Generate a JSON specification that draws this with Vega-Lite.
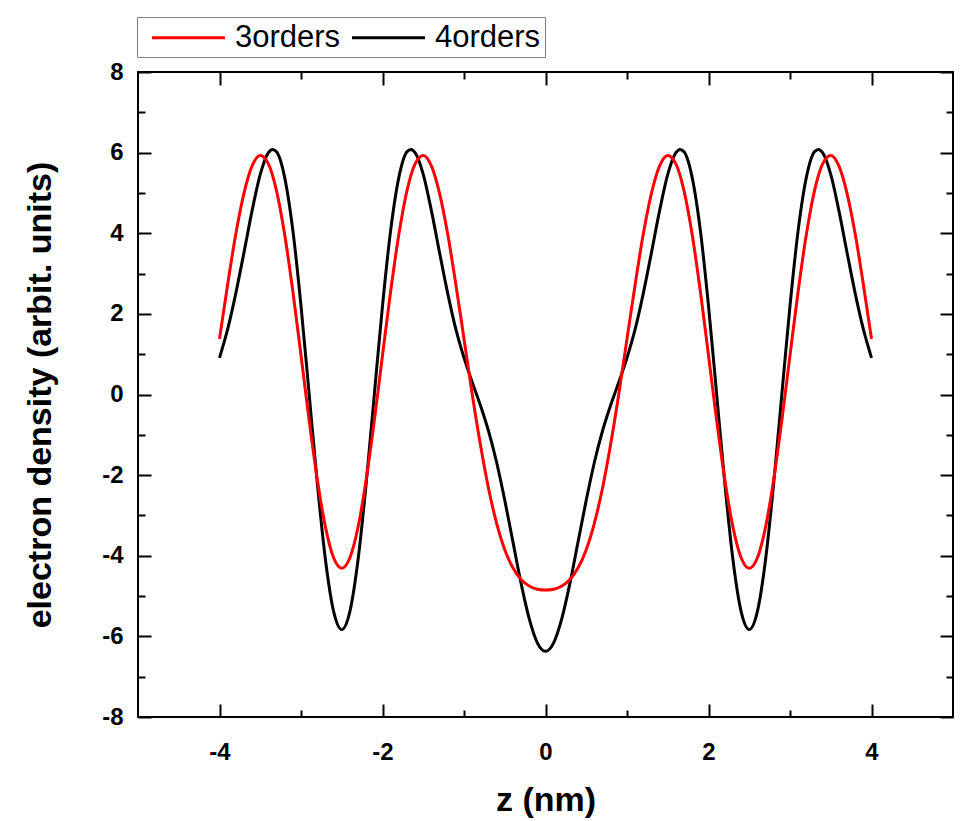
{
  "$schema": "https://vega.github.io/schema/vega-lite/v6.json",
  "autosize": "none",
  "width": 815,
  "height": 645,
  "padding": {"top": 72, "left": 138, "right": 24, "bottom": 104},
  "background": "white",
  "config": {
    "view": {"stroke": "black", "strokeWidth": 2},
    "axis": {
      "grid": false,
      "domain": false,
      "tickColor": "black",
      "tickWidth": 2,
      "labelFont": "Liberation Sans",
      "labelFontSize": 24,
      "labelFontWeight": "bold",
      "labelColor": "black",
      "labelOverlap": false,
      "titleFont": "Liberation Sans",
      "titleFontSize": 34,
      "titleFontWeight": "bold",
      "titleColor": "black"
    },
    "legend": {
      "orient": "none",
      "legendX": -1,
      "legendY": -55,
      "direction": "horizontal",
      "title": null,
      "symbolType": "M-2.5,0H2.5",
      "symbolSize": 853,
      "symbolStrokeWidth": 3,
      "labelFont": "Liberation Sans",
      "labelFontSize": 31,
      "labelColor": "black",
      "strokeColor": "#808080",
      "fillColor": "white",
      "padding": 4,
      "symbolOffset": 31,
      "labelOffset": 30,
      "columnPadding": 0
    }
  },
  "data": {
    "values": [
      {"z": -4, "v": 1.38, "s": "3orders"}, {"z": -3.9, "v": 2.73, "s": "3orders"}, {"z": -3.8, "v": 3.98, "s": "3orders"}, {"z": -3.7, "v": 4.99, "s": "3orders"}, {"z": -3.6, "v": 5.67, "s": "3orders"},
      {"z": -3.5, "v": 5.93, "s": "3orders"}, {"z": -3.4, "v": 5.72, "s": "3orders"}, {"z": -3.3, "v": 5.05, "s": "3orders"}, {"z": -3.2, "v": 3.96, "s": "3orders"}, {"z": -3.1, "v": 2.56, "s": "3orders"},
      {"z": -3, "v": 0.97, "s": "3orders"}, {"z": -2.9, "v": -0.64, "s": "3orders"}, {"z": -2.8, "v": -2.11, "s": "3orders"}, {"z": -2.7, "v": -3.29, "s": "3orders"}, {"z": -2.6, "v": -4.05, "s": "3orders"},
      {"z": -2.5, "v": -4.31, "s": "3orders"}, {"z": -2.4, "v": -4.05, "s": "3orders"}, {"z": -2.3, "v": -3.29, "s": "3orders"}, {"z": -2.2, "v": -2.11, "s": "3orders"}, {"z": -2.1, "v": -0.64, "s": "3orders"},
      {"z": -2, "v": 0.97, "s": "3orders"}, {"z": -1.9, "v": 2.56, "s": "3orders"}, {"z": -1.8, "v": 3.96, "s": "3orders"}, {"z": -1.7, "v": 5.05, "s": "3orders"}, {"z": -1.6, "v": 5.72, "s": "3orders"},
      {"z": -1.5, "v": 5.93, "s": "3orders"}, {"z": -1.4, "v": 5.67, "s": "3orders"}, {"z": -1.3, "v": 4.99, "s": "3orders"}, {"z": -1.2, "v": 3.98, "s": "3orders"}, {"z": -1.1, "v": 2.73, "s": "3orders"},
      {"z": -1, "v": 1.38, "s": "3orders"}, {"z": -0.9, "v": 0.02, "s": "3orders"}, {"z": -0.8, "v": -1.23, "s": "3orders"}, {"z": -0.7, "v": -2.32, "s": "3orders"}, {"z": -0.6, "v": -3.19, "s": "3orders"},
      {"z": -0.5, "v": -3.85, "s": "3orders"}, {"z": -0.4, "v": -4.30, "s": "3orders"}, {"z": -0.3, "v": -4.59, "s": "3orders"}, {"z": -0.2, "v": -4.75, "s": "3orders"}, {"z": -0.1, "v": -4.83, "s": "3orders"},
      {"z": 0, "v": -4.85, "s": "3orders"},
      {"z": 0.1, "v": -4.83, "s": "3orders"}, {"z": 0.2, "v": -4.75, "s": "3orders"}, {"z": 0.3, "v": -4.59, "s": "3orders"}, {"z": 0.4, "v": -4.30, "s": "3orders"}, {"z": 0.5, "v": -3.85, "s": "3orders"},
      {"z": 0.6, "v": -3.19, "s": "3orders"}, {"z": 0.7, "v": -2.32, "s": "3orders"}, {"z": 0.8, "v": -1.23, "s": "3orders"}, {"z": 0.9, "v": 0.02, "s": "3orders"}, {"z": 1, "v": 1.38, "s": "3orders"},
      {"z": 1.1, "v": 2.73, "s": "3orders"}, {"z": 1.2, "v": 3.98, "s": "3orders"}, {"z": 1.3, "v": 4.99, "s": "3orders"}, {"z": 1.4, "v": 5.67, "s": "3orders"}, {"z": 1.5, "v": 5.93, "s": "3orders"},
      {"z": 1.6, "v": 5.72, "s": "3orders"}, {"z": 1.7, "v": 5.05, "s": "3orders"}, {"z": 1.8, "v": 3.96, "s": "3orders"}, {"z": 1.9, "v": 2.56, "s": "3orders"}, {"z": 2, "v": 0.97, "s": "3orders"},
      {"z": 2.1, "v": -0.64, "s": "3orders"}, {"z": 2.2, "v": -2.11, "s": "3orders"}, {"z": 2.3, "v": -3.29, "s": "3orders"}, {"z": 2.4, "v": -4.05, "s": "3orders"}, {"z": 2.5, "v": -4.31, "s": "3orders"},
      {"z": 2.6, "v": -4.05, "s": "3orders"}, {"z": 2.7, "v": -3.29, "s": "3orders"}, {"z": 2.8, "v": -2.11, "s": "3orders"}, {"z": 2.9, "v": -0.64, "s": "3orders"}, {"z": 3, "v": 0.97, "s": "3orders"},
      {"z": 3.1, "v": 2.56, "s": "3orders"}, {"z": 3.2, "v": 3.96, "s": "3orders"}, {"z": 3.3, "v": 5.05, "s": "3orders"}, {"z": 3.4, "v": 5.72, "s": "3orders"}, {"z": 3.5, "v": 5.93, "s": "3orders"},
      {"z": 3.6, "v": 5.67, "s": "3orders"}, {"z": 3.7, "v": 4.99, "s": "3orders"}, {"z": 3.8, "v": 3.98, "s": "3orders"}, {"z": 3.9, "v": 2.73, "s": "3orders"}, {"z": 4, "v": 1.38, "s": "3orders"},

      {"z": -4, "v": 0.91, "s": "4orders"}, {"z": -3.9, "v": 1.62, "s": "4orders"}, {"z": -3.8, "v": 2.51, "s": "4orders"}, {"z": -3.7, "v": 3.52, "s": "4orders"}, {"z": -3.6, "v": 4.56, "s": "4orders"},
      {"z": -3.5, "v": 5.46, "s": "4orders"}, {"z": -3.4, "v": 6.00, "s": "4orders"}, {"z": -3.35, "v": 6.08, "s": "4orders"}, {"z": -3.3, "v": 6.02, "s": "4orders"}, {"z": -3.2, "v": 5.38, "s": "4orders"},
      {"z": -3.1, "v": 4.07, "s": "4orders"}, {"z": -3, "v": 2.20, "s": "4orders"}, {"z": -2.9, "v": 0.01, "s": "4orders"}, {"z": -2.8, "v": -2.20, "s": "4orders"}, {"z": -2.7, "v": -4.10, "s": "4orders"},
      {"z": -2.6, "v": -5.38, "s": "4orders"}, {"z": -2.5, "v": -5.83, "s": "4orders"}, {"z": -2.4, "v": -5.38, "s": "4orders"}, {"z": -2.3, "v": -4.10, "s": "4orders"}, {"z": -2.2, "v": -2.20, "s": "4orders"},
      {"z": -2.1, "v": 0.01, "s": "4orders"}, {"z": -2, "v": 2.20, "s": "4orders"}, {"z": -1.9, "v": 4.07, "s": "4orders"}, {"z": -1.8, "v": 5.38, "s": "4orders"}, {"z": -1.7, "v": 6.02, "s": "4orders"},
      {"z": -1.65, "v": 6.08, "s": "4orders"}, {"z": -1.6, "v": 6.00, "s": "4orders"}, {"z": -1.5, "v": 5.46, "s": "4orders"}, {"z": -1.4, "v": 4.56, "s": "4orders"}, {"z": -1.3, "v": 3.52, "s": "4orders"},
      {"z": -1.2, "v": 2.51, "s": "4orders"}, {"z": -1.1, "v": 1.62, "s": "4orders"}, {"z": -1, "v": 0.91, "s": "4orders"}, {"z": -0.9, "v": 0.31, "s": "4orders"}, {"z": -0.8, "v": -0.26, "s": "4orders"},
      {"z": -0.7, "v": -0.90, "s": "4orders"}, {"z": -0.6, "v": -1.68, "s": "4orders"}, {"z": -0.5, "v": -2.62, "s": "4orders"}, {"z": -0.4, "v": -3.65, "s": "4orders"}, {"z": -0.3, "v": -4.68, "s": "4orders"},
      {"z": -0.2, "v": -5.56, "s": "4orders"}, {"z": -0.1, "v": -6.16, "s": "4orders"}, {"z": 0, "v": -6.37, "s": "4orders"},
      {"z": 0.1, "v": -6.16, "s": "4orders"}, {"z": 0.2, "v": -5.56, "s": "4orders"}, {"z": 0.3, "v": -4.68, "s": "4orders"}, {"z": 0.4, "v": -3.65, "s": "4orders"}, {"z": 0.5, "v": -2.62, "s": "4orders"},
      {"z": 0.6, "v": -1.68, "s": "4orders"}, {"z": 0.7, "v": -0.90, "s": "4orders"}, {"z": 0.8, "v": -0.26, "s": "4orders"}, {"z": 0.9, "v": 0.31, "s": "4orders"}, {"z": 1, "v": 0.91, "s": "4orders"},
      {"z": 1.1, "v": 1.62, "s": "4orders"}, {"z": 1.2, "v": 2.51, "s": "4orders"}, {"z": 1.3, "v": 3.52, "s": "4orders"}, {"z": 1.4, "v": 4.56, "s": "4orders"}, {"z": 1.5, "v": 5.46, "s": "4orders"},
      {"z": 1.6, "v": 6.00, "s": "4orders"}, {"z": 1.65, "v": 6.08, "s": "4orders"}, {"z": 1.7, "v": 6.02, "s": "4orders"}, {"z": 1.8, "v": 5.38, "s": "4orders"}, {"z": 1.9, "v": 4.07, "s": "4orders"},
      {"z": 2, "v": 2.20, "s": "4orders"}, {"z": 2.1, "v": 0.01, "s": "4orders"}, {"z": 2.2, "v": -2.20, "s": "4orders"}, {"z": 2.3, "v": -4.10, "s": "4orders"}, {"z": 2.4, "v": -5.38, "s": "4orders"},
      {"z": 2.5, "v": -5.83, "s": "4orders"}, {"z": 2.6, "v": -5.38, "s": "4orders"}, {"z": 2.7, "v": -4.10, "s": "4orders"}, {"z": 2.8, "v": -2.20, "s": "4orders"}, {"z": 2.9, "v": 0.01, "s": "4orders"},
      {"z": 3, "v": 2.20, "s": "4orders"}, {"z": 3.1, "v": 4.07, "s": "4orders"}, {"z": 3.2, "v": 5.38, "s": "4orders"}, {"z": 3.3, "v": 6.02, "s": "4orders"}, {"z": 3.35, "v": 6.08, "s": "4orders"},
      {"z": 3.4, "v": 6.00, "s": "4orders"}, {"z": 3.5, "v": 5.46, "s": "4orders"}, {"z": 3.6, "v": 4.56, "s": "4orders"}, {"z": 3.7, "v": 3.52, "s": "4orders"}, {"z": 3.8, "v": 2.51, "s": "4orders"},
      {"z": 3.9, "v": 1.62, "s": "4orders"}, {"z": 4, "v": 0.91, "s": "4orders"}
    ]
  },
  "layer": [
    {
      "transform": [{"filter": "datum.s === '4orders'"}],
      "mark": {"type": "line", "interpolate": "monotone", "strokeWidth": 3},
      "encoding": {
        "x": {
          "field": "z", "type": "quantitative",
          "scale": {"domain": [-5, 5], "nice": false, "zero": false},
          "axis": {
            "orient": "bottom",
            "values": [-4, -2, 0, 2, 4],
            "title": "z (nm)",
            "labelExpr": "toString(datum.value)",
            "tickSize": 13,
            "offset": -13,
            "labelPadding": 23,
            "titleY": 106,
            "titleBaseline": "alphabetic"
          }
        },
        "y": {
          "field": "v", "type": "quantitative",
          "scale": {"domain": [-8, 8], "nice": false, "zero": false},
          "axis": {
            "orient": "left",
            "values": [-8, -6, -4, -2, 0, 2, 4, 6, 8],
            "title": "electron density (arbit. units)",
            "labelExpr": "toString(datum.value)",
            "tickSize": 13,
            "offset": -13,
            "labelPadding": 15,
            "titleX": -101,
            "titleBaseline": "alphabetic"
          }
        },
        "color": {
          "field": "s", "type": "nominal",
          "scale": {"domain": ["3orders", "4orders"], "range": ["#ff0000", "#000000"]}
        }
      }
    },
    {
      "transform": [{"filter": "datum.s === '3orders'"}],
      "mark": {"type": "line", "interpolate": "monotone", "strokeWidth": 3},
      "encoding": {
        "x": {
          "field": "z", "type": "quantitative",
          "axis": {"orient": "top", "values": [-4, -2, 0, 2, 4], "labels": false, "title": null, "tickSize": 13, "offset": -13}
        },
        "y": {
          "field": "v", "type": "quantitative",
          "axis": {"orient": "right", "values": [-8, -6, -4, -2, 0, 2, 4, 6, 8], "labels": false, "title": null, "tickSize": 13, "offset": -13}
        },
        "color": {"field": "s", "type": "nominal"}
      }
    },
    {
      "transform": [{"filter": "datum.s === '3orders'"}],
      "mark": {"type": "line", "strokeOpacity": 0, "strokeWidth": 0},
      "encoding": {
        "x": {
          "field": "z", "type": "quantitative",
          "axis": {"orient": "bottom", "values": [-3, -1, 1, 3], "labels": false, "title": null, "tickSize": 7, "offset": -7}
        },
        "y": {
          "field": "v", "type": "quantitative",
          "axis": {"orient": "left", "values": [-7, -5, -3, -1, 1, 3, 5, 7], "labels": false, "title": null, "tickSize": 7, "offset": -7}
        }
      }
    },
    {
      "transform": [{"filter": "datum.s === '3orders'"}],
      "mark": {"type": "line", "strokeOpacity": 0, "strokeWidth": 0},
      "encoding": {
        "x": {
          "field": "z", "type": "quantitative",
          "axis": {"orient": "top", "values": [-3, -1, 1, 3], "labels": false, "title": null, "tickSize": 7, "offset": -7}
        },
        "y": {
          "field": "v", "type": "quantitative",
          "axis": {"orient": "right", "values": [-7, -5, -3, -1, 1, 3, 5, 7], "labels": false, "title": null, "tickSize": 7, "offset": -7}
        }
      }
    }
  ],
  "resolve": {"axis": {"x": "independent", "y": "independent"}}
}
